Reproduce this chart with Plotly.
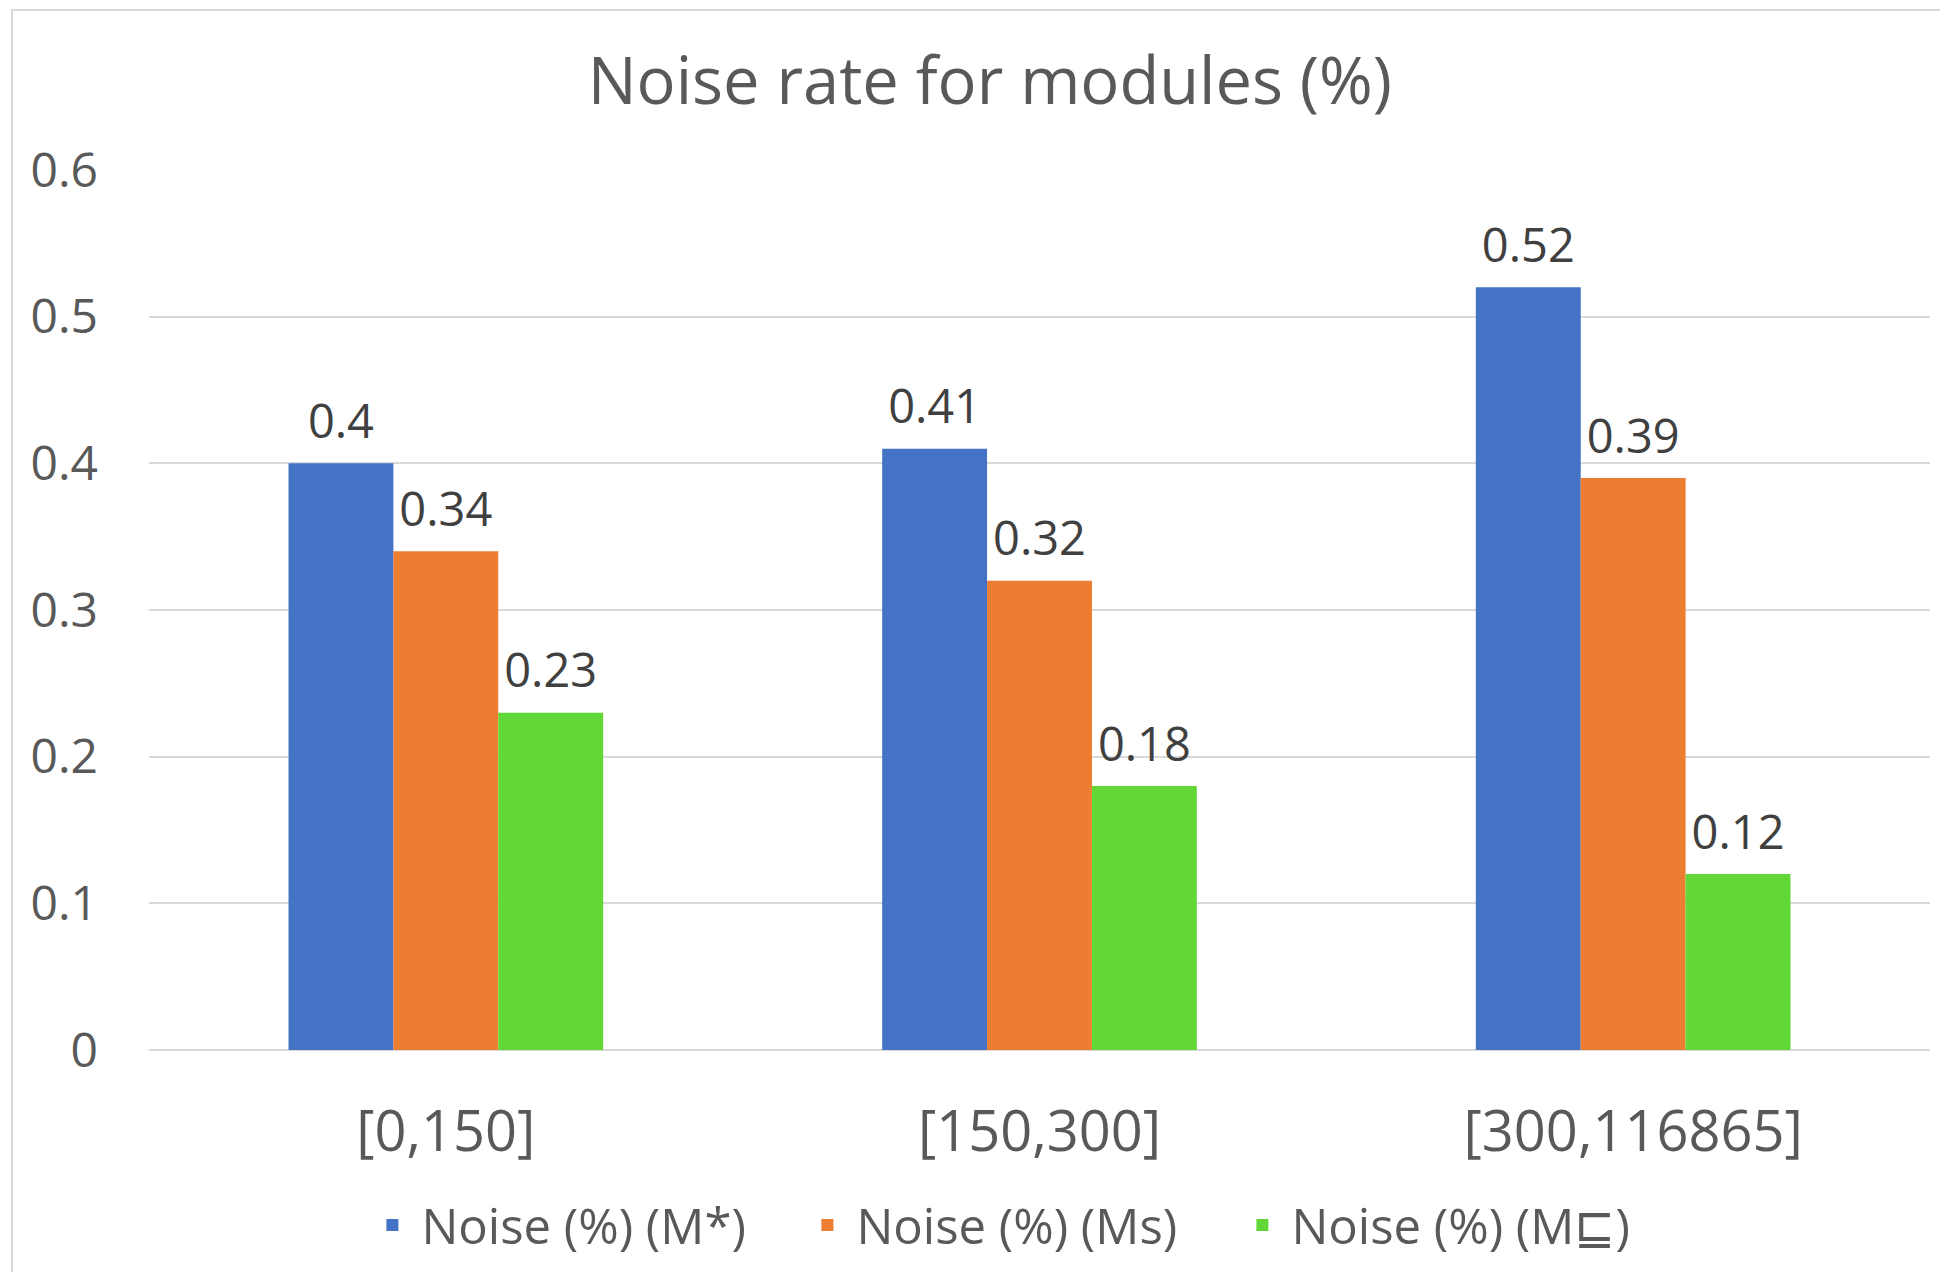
import plotly.graph_objects as go

categories = ["[0,150]", "[150,300]", "[300,116865]"]
series_names = ["Noise (%) (M*)", "Noise (%) (Ms)", "Noise (%) (M⊑)"]
m_star = [0.40, 0.41, 0.52]
m_s = [0.34, 0.32, 0.39]
m_sq = [0.23, 0.18, 0.12]
colors = ["#4472C4", "#ED7D31", "#62D838"]
y_ticks = [0, 0.1, 0.2, 0.3, 0.4, 0.5, 0.6]
y_tick_text = ["0", "0.1", "0.2", "0.3", "0.4", "0.5", "0.6"]

FONT = "Open Sans"
GREY = "#595959"
LABEL = "#404040"
GAP = 0.47

fig = go.Figure()
all_vals = [m_star, m_s, m_sq]
for i, (name, vals, col) in enumerate(zip(series_names, all_vals, colors)):
    fig.add_trace(go.Bar(
        x=categories, y=vals, name=name, marker_color=col,
        marker_line_width=0, offsetgroup=str(i),
    ))
for i, (name, vals) in enumerate(zip(series_names, all_vals)):
    fig.add_trace(go.Scatter(
        x=categories, y=vals, mode="markers+text",
        text=[f"{v:g}" for v in vals], textposition="top center",
        textfont=dict(family=FONT, size=47, color=LABEL),
        marker=dict(size=20, opacity=0), showlegend=False,
        hoverinfo="skip", cliponaxis=False, offsetgroup=str(i),
    ))

fig.update_layout(
    width=1948, height=1272,
    paper_bgcolor="white", plot_bgcolor="white",
    margin=dict(l=141, r=26, t=162, b=230),
    barmode="group", bargap=GAP, bargroupgap=0,
    scattermode="group", scattergap=GAP,
    font=dict(family=FONT, color=GREY),
    title=dict(text="Noise rate for modules (%)", x=0.504, xref="container",
               y=0.9426, yref="container", xanchor="center", yanchor="middle",
               font=dict(family=FONT, size=65, color=GREY)),
    legend=dict(orientation="h", xref="container", yref="container",
                x=0.5174, y=0.0432, xanchor="center", yanchor="middle",
                font=dict(family=FONT, size=49, color=GREY),
                itemwidth=48, entrywidth=372, entrywidthmode="pixels",
                traceorder="normal"),
    shapes=[dict(type="rect", xref="paper", yref="paper",
                 x0=-137/1781, x1=1.2, y0=-0.5, y1=1 + 160/880,
                 line=dict(color="#D9D9D9", width=2), fillcolor="rgba(0,0,0,0)",
                 layer="below")],
)
fig.update_xaxes(
    showgrid=False, showline=False, zeroline=False,
    tickfont=dict(family=FONT, size=56, color=GREY),
    ticks="", ticklabelstandoff=44,
)
fig.update_yaxes(
    range=[0, 0.6], tickvals=y_ticks, ticktext=y_tick_text,
    showgrid=True, gridcolor="#D9D9D9", gridwidth=2,
    zeroline=True, zerolinecolor="#D9D9D9", zerolinewidth=2,
    showline=False, ticks="",
    tickfont=dict(family=FONT, size=48, color=GREY),
    ticklabelstandoff=50,
)

fig.write_html("out.html")
